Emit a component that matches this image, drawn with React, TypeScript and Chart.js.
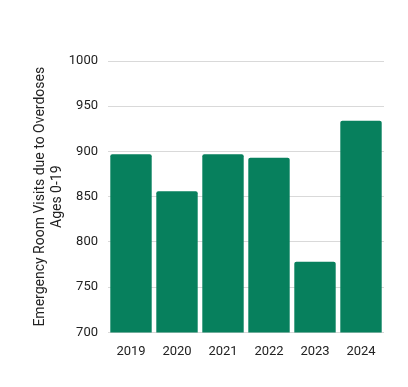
import React, { useEffect, useRef } from "react";
import { Chart, registerables } from "chart.js";

Chart.register(...registerables);

const years = ["2019", "2020", "2021", "2022", "2023", "2024"];
const visits = [897, 856, 897, 893, 778, 934];
const yTitle = ["Emergency Room Visits due to Overdoses", "Ages 0-19"];

export default function App() {
  const ref = useRef<HTMLCanvasElement>(null);
  useEffect(() => {
    if (!ref.current) return;
    const chart = new Chart(ref.current, {
      type: "bar",
      data: {
        labels: years,
        datasets: [
          {
            data: visits,
            backgroundColor: "#07805d",
            borderRadius: 2,
            borderSkipped: "bottom",
            barPercentage: 0.9,
            categoryPercentage: 1,
          },
        ],
      },
      options: {
        animation: false,
        responsive: false,
        maintainAspectRatio: false,
        layout: { padding: { top: 61, right: 24, bottom: 23, left: 32 } },
        plugins: { legend: { display: false }, tooltip: { enabled: false } },
        scales: {
          x: {
            grid: { display: false },
            border: { display: false },
            ticks: { color: "#222", font: { family: "Roboto", size: 13 }, padding: 4 },
          },
          y: {
            min: 700,
            max: 1000,
            afterFit: (scale: any) => {
              scale.width = 76;
            },
            ticks: {
              stepSize: 50,
              color: "#222",
              font: { family: "Roboto", size: 13 },
              padding: 10,
              callback: (v: any) => String(v),
            },
            grid: { color: "#d9d9d9", drawTicks: false },
            border: { display: false },
            title: {
              display: true,
              text: yTitle,
              color: "#222",
              font: { family: "Roboto", size: 14 },
              padding: { top: 0, bottom: 0 },
            },
          },
        },
      },
    });
    return () => chart.destroy();
  }, []);
  return (
    <div style={{ position: "absolute", left: 0, top: 0, width: 408, height: 387, background: "#fff" }}>
      <canvas ref={ref} width={408} height={387} style={{ width: 408, height: 387 }} />
    </div>
  );
}
